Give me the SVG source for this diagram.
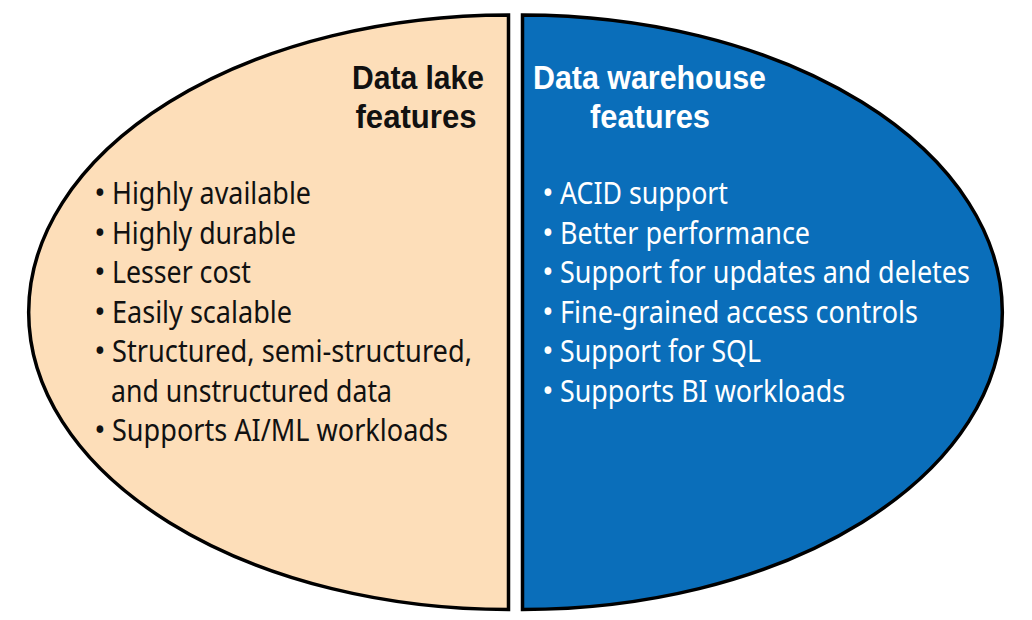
<svg xmlns="http://www.w3.org/2000/svg" width="1032" height="620" viewBox="0 0 1032 620">
<style>
.shape{stroke:#000;stroke-width:3.5;stroke-linejoin:miter}
.lake{fill:#FDDEB9}
.wh{fill:#0A6EBA}
.title{font-family:"Liberation Sans","Noto Sans",sans-serif;font-size:33px;font-weight:bold;text-anchor:middle}
.item{font-family:"Noto Sans","Open Sans","Liberation Sans",sans-serif;font-size:30px}
.bul{font-family:"Noto Sans","Open Sans","Liberation Sans",sans-serif;font-size:30px;text-anchor:middle}
.dark{fill:#111}
.light{fill:#fff}
</style>
<rect width="1032" height="620" fill="#fff"/>
<g id="connectors"/>
<g id="data-lake">
<path class="shape lake" d="M508.5 15 L508.5 609.5 A480 297.25 0 0 1 508.5 15 Z"/>
<text class="title dark" x="418" y="89" textLength="132" lengthAdjust="spacingAndGlyphs">Data lake</text>
<text class="title dark" x="416" y="128" textLength="121" lengthAdjust="spacingAndGlyphs">features</text>
<g class="dark">
<text class="bul" x="100" y="204">•</text>
<text class="item" x="112" y="204" textLength="199" lengthAdjust="spacingAndGlyphs">Highly available</text>
<text class="bul" x="100" y="243.5">•</text>
<text class="item" x="112" y="243.5" textLength="184" lengthAdjust="spacingAndGlyphs">Highly durable</text>
<text class="bul" x="100" y="283">•</text>
<text class="item" x="112" y="283" textLength="139" lengthAdjust="spacingAndGlyphs">Lesser cost</text>
<text class="bul" x="100" y="322.5">•</text>
<text class="item" x="112" y="322.5" textLength="180" lengthAdjust="spacingAndGlyphs">Easily scalable</text>
<text class="bul" x="100" y="362">•</text>
<text class="item" x="112" y="362" textLength="360" lengthAdjust="spacingAndGlyphs">Structured, semi-structured,</text>
<text class="item" x="111" y="401.5" textLength="281" lengthAdjust="spacingAndGlyphs">and unstructured data</text>
<text class="bul" x="100" y="441">•</text>
<text class="item" x="112" y="441" textLength="336" lengthAdjust="spacingAndGlyphs">Supports AI/ML workloads</text>
</g>
</g>
<g id="data-warehouse">
<path class="shape wh" d="M522.5 15 A480 297.25 0 0 1 522.5 609.5 Z"/>
<text class="title light" x="649.5" y="89" textLength="233" lengthAdjust="spacingAndGlyphs">Data warehouse</text>
<text class="title light" x="650" y="128" textLength="120" lengthAdjust="spacingAndGlyphs">features</text>
<g class="light">
<text class="bul" x="548" y="204">•</text>
<text class="item" x="560" y="204" textLength="168" lengthAdjust="spacingAndGlyphs">ACID support</text>
<text class="bul" x="548" y="243.5">•</text>
<text class="item" x="560" y="243.5" textLength="250" lengthAdjust="spacingAndGlyphs">Better performance</text>
<text class="bul" x="548" y="283">•</text>
<text class="item" x="560" y="283" textLength="410" lengthAdjust="spacingAndGlyphs">Support for updates and deletes</text>
<text class="bul" x="548" y="322.5">•</text>
<text class="item" x="560" y="322.5" textLength="358" lengthAdjust="spacingAndGlyphs">Fine-grained access controls</text>
<text class="bul" x="548" y="362">•</text>
<text class="item" x="560" y="362" textLength="201" lengthAdjust="spacingAndGlyphs">Support for SQL</text>
<text class="bul" x="548" y="401.5">•</text>
<text class="item" x="560" y="401.5" textLength="285" lengthAdjust="spacingAndGlyphs">Supports BI workloads</text>
</g>
</g>
</svg>
